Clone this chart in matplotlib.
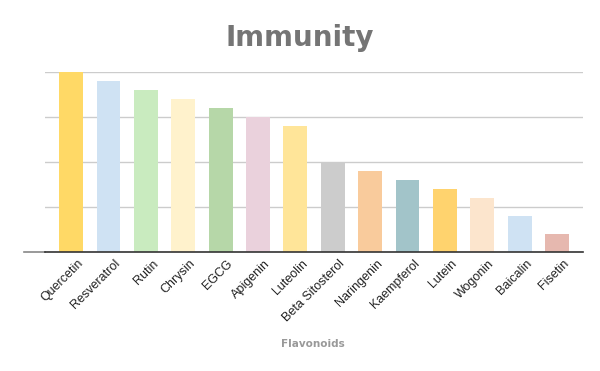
import matplotlib
matplotlib.use("Agg")
import matplotlib.pyplot as plt
import matplotlib.transforms as mtransforms

categories = ["Quercetin", "Resveratrol", "Rutin", "Chrysin", "EGCG", "Apigenin",
              "Luteolin", "Beta Sitosterol", "Naringenin", "Kaempferol", "Lutein",
              "Wogonin", "Baicalin", "Fisetin"]
values = [20, 19, 18, 17, 16, 15, 14, 10, 9, 8, 7, 6, 4, 2]
colors = ["#FFD966", "#CFE2F3", "#C9EBBF", "#FFF2CC", "#B6D7A8", "#EAD1DC",
          "#FFE599", "#CCCCCC", "#F9CB9C", "#A2C4C9", "#FFD36E", "#FCE5CD",
          "#CFE2F3", "#E6B8AF"]

fig = plt.figure(figsize=(6, 3.71), dpi=100)
ax = fig.add_axes([0.075, 0.3208, 0.897, 0.4852])
x = list(range(len(categories)))
ax.bar(x, values, width=0.64, color=colors, zorder=2)
ax.set_xlim(-0.7, len(categories) - 0.3)
ax.set_ylim(0, 20)
ax.set_yticks([0, 5, 10, 15, 20])
ax.set_yticklabels([])
ax.tick_params(axis="y", length=0)
ax.grid(axis="y", color="#cccccc", linewidth=1, zorder=0)
for s in ["top", "right", "left"]:
    ax.spines[s].set_visible(False)
ax.spines["bottom"].set_color("#333333")
ax.spines["bottom"].set_linewidth(1.2)
ax.spines["bottom"].set_zorder(3)
ax.set_xticks(x)
ax.set_xticklabels(categories, rotation=45, ha="right", rotation_mode="anchor",
                   fontsize=9, family="Liberation Sans", color="#222222")
ax.tick_params(axis="x", length=0, pad=4)
offset = mtransforms.ScaledTranslation(6 / 100, 0, fig.dpi_scale_trans)
for lbl in ax.get_xticklabels():
    lbl.set_transform(lbl.get_transform() + offset)

# short grey dash left of axis
ax.plot([-1.25, -0.7], [0, 0], color="#888888", linewidth=1.2, clip_on=False, zorder=3)

fig.text(0.5, 0.898, "Immunity", ha="center", va="center", fontsize=20,
         fontweight="bold", color="#757575", family="DejaVu Sans")
fig.text(0.522, 0.073, "Flavonoids", ha="center", va="center", fontsize=7.5,
         fontweight="bold", color="#999999", family="DejaVu Sans")

fig.savefig("out.png", dpi=100, facecolor="white")
